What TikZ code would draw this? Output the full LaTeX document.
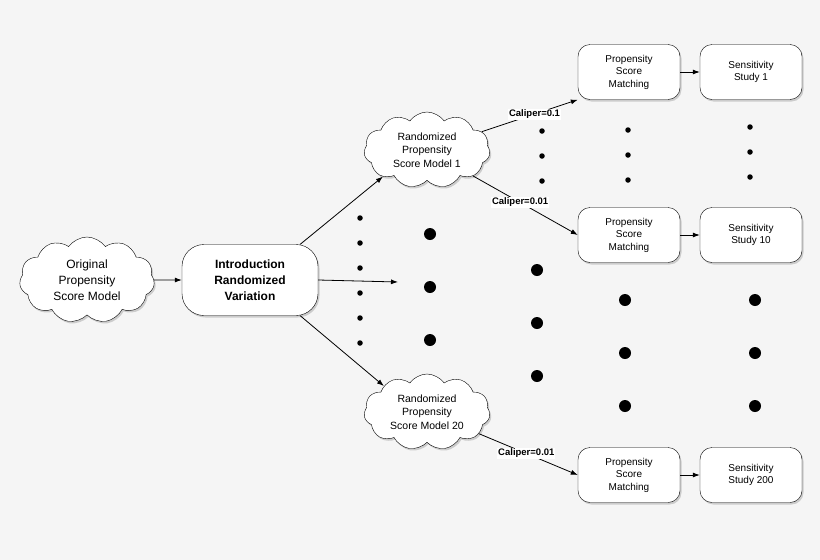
\documentclass[tikz,border=0pt]{standalone}
\usepackage{fontspec}
\setmainfont{Liberation Sans}
\usetikzlibrary{shapes.symbols,shadows,arrows.meta}
\begin{document}
\begin{tikzpicture}[x=1pt,y=-1pt,
  sh/.style={drop shadow={shadow xshift=1.5pt,shadow yshift=-2pt,opacity=0.35}},
  cl/.style={cloud,cloud puffs=11,cloud puff arc=110,aspect=1.7,draw,fill=white,sh,align=center,font=\fontsize{10.5}{13.5}\selectfont,minimum width=#1,minimum height=76pt,inner sep=-9pt},
  bx/.style={draw,fill=white,sh,rounded corners=12pt,minimum width=102pt,minimum height=55pt,align=center,font=\fontsize{10}{12.5}\selectfont},
  ar/.style={-{Latex[length=7pt,width=5pt]},thick},
  cal/.style={fill=white,inner sep=1pt,font=\bfseries\fontsize{9.5}{10}\selectfont},
  sd/.style={circle,fill=black,inner sep=0pt,minimum size=5.5pt},
  bd/.style={circle,fill=black,inner sep=0pt,minimum size=12pt}]
\fill[gray!8] (0,0) rectangle (820,560);
\useasboundingbox (0,0) rectangle (820,560);
\node[cl=135pt,font=\fontsize{12}{16}\selectfont,minimum height=86pt] (orig) at (87,280) {Original\\Propensity\\Score Model};
\node[bx,minimum width=136pt,minimum height=71pt,rounded corners=22pt,font=\bfseries\fontsize{12}{16}\selectfont] (intro) at (250,280) {Introduction\\Randomized\\Variation};
\node[cl=126pt] (r1) at (427,150) {Randomized\\Propensity\\Score Model 1};
\node[cl=126pt] (r20) at (427,412) {Randomized\\Propensity\\Score Model 20};
\node[bx] (p1) at (629,72) {Propensity\\Score\\Matching};
\node[bx] (p10) at (629,235) {Propensity\\Score\\Matching};
\node[bx] (p200) at (629,475) {Propensity\\Score\\Matching};
\node[bx] (s1) at (751,72) {Sensitivity\\Study 1};
\node[bx] (s10) at (751,235) {Sensitivity\\Study 10};
\node[bx] (s200) at (751,475) {Sensitivity\\Study 200};
\coordinate (mid) at (398,282);
\draw[ar] (orig) -- (intro);
\draw[ar] (intro.north east)++(-18,0) -- (r1.south west);
\draw[ar] (intro.east) -- (mid);
\draw[ar] (intro.south east)++(-18,0) -- (r20.north west);
\draw[ar] (r1) -- node[cal,pos=0.55]{Caliper=0.1} (p1.south west);
\draw[ar] (r1) -- node[cal,pos=0.45]{Caliper=0.01} (p10.west);
\draw[ar] (r20) -- node[cal,pos=0.48]{Caliper=0.01} (p200.west);
\draw[ar] (p1) -- (s1);
\draw[ar] (p10) -- (s10);
\draw[ar] (p200) -- (s200);
\foreach \y in {218,243,268,293,318,343} \node[sd] at (360,\y) {};
\foreach \y in {131,156,181} \node[sd] at (542,\y) {};
\foreach \y in {130,155,180} \node[sd] at (628,\y) {};
\foreach \y in {127,152,177} \node[sd] at (750,\y) {};
\foreach \y in {234,287,340} \node[bd] at (430,\y) {};
\foreach \y in {270,323,376} \node[bd] at (537,\y) {};
\foreach \y in {300,353,406} \node[bd] at (625,\y) {};
\foreach \y in {300,353,406} \node[bd] at (755,\y) {};
\end{tikzpicture}
\end{document}
